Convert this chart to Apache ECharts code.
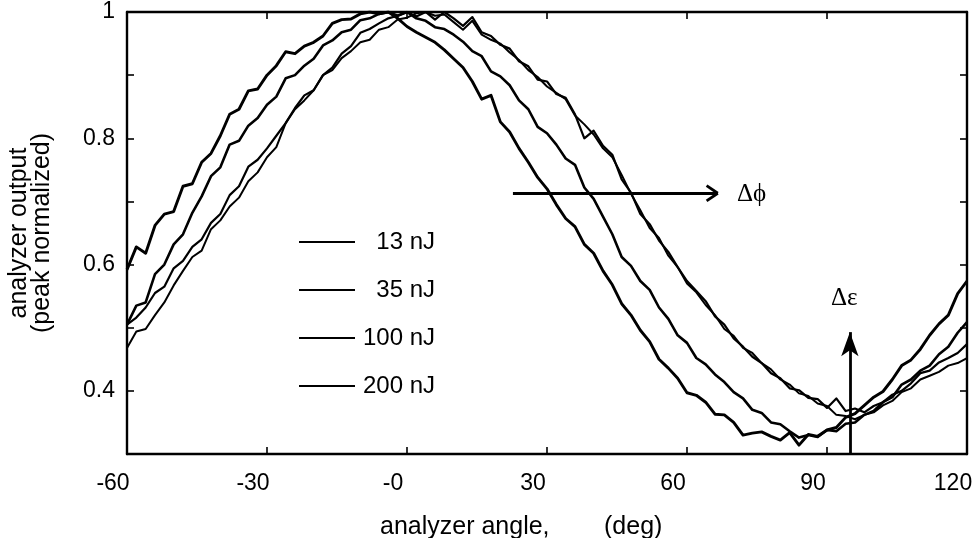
<!DOCTYPE html>
<html><head><meta charset="utf-8">
<script src="https://cdn.jsdelivr.net/npm/echarts@6/dist/echarts.min.js"></script>
<style>html,body{margin:0;padding:0;background:#fff}#c{width:979px;height:538px}</style>
</head><body><div id="c"></div>
<script>
// analyzer angle (deg)
const angles = [-60,-58,-56,-54,-52,-50,-48,-46,-44,-42,-40,-38,-36,-34,-32,-30,-28,-26,-24,-22,-20,-18,-16,-14,-12,-10,-8,-6,-4,-2,
0,2,4,6,8,10,12,14,16,18,20,22,24,26,28,30,32,34,36,38,40,42,44,46,48,50,52,54,56,58,
60,62,64,66,68,70,72,74,76,78,80,82,84,86,88,90,92,94,96,98,100,102,104,106,108,110,112,114,116,118,120];

const e13 = [.592,.628,.618,.662,.68,.684,.724,.728,.762,.776,.804,.838,.846,.875,.878,.9,.915,.937,.934,.946,.952,.962,.982,.988,.989,.997,1.0,.997,1.0,.99,
.977,.968,.96,.952,.94,.926,.912,.89,.862,.868,.826,.81,.784,.762,.738,.72,.695,.673,.66,.632,.618,.59,.568,.538,.52,.496,.478,.45,.436,.42,
.397,.393,.382,.363,.362,.35,.33,.333,.335,.328,.322,.334,.314,.331,.328,.338,.342,.358,.364,.377,.39,.399,.418,.44,.449,.466,.488,.506,.52,.554,.574];

const e35 = [.505,.535,.54,.585,.6,.632,.648,.682,.708,.74,.754,.79,.796,.82,.832,.853,.866,.895,.9,.915,.926,.947,.955,.968,.972,.987,.99,.997,1.0,.994,
1.0,.99,.986,.976,.973,.964,.953,.938,.93,.906,.898,.884,.86,.846,.818,.808,.79,.768,.758,.722,.704,.676,.648,.612,.598,.574,.56,.532,.514,.488,
.476,.452,.442,.426,.414,.398,.388,.37,.365,.35,.347,.336,.326,.33,.327,.338,.336,.348,.35,.362,.368,.382,.39,.41,.418,.432,.44,.458,.47,.492,.509];

const e100 = [.505,.516,.532,.555,.565,.594,.606,.628,.64,.666,.68,.71,.724,.755,.766,.784,.804,.824,.848,.868,.876,.9,.912,.934,.946,.967,.973,.982,.99,.994,
1.0,.993,1.0,.988,1.0,.99,.978,.992,.968,.962,.948,.942,.922,.914,.893,.89,.87,.864,.838,.8,.812,.788,.774,.735,.714,.68,.664,.638,.62,.596,
.574,.558,.542,.518,.505,.483,.47,.454,.444,.428,.42,.404,.401,.389,.387,.373,.388,.368,.372,.366,.376,.382,.394,.4,.412,.428,.432,.445,.452,.46,.474];

const e200 = [.468,.494,.498,.52,.54,.567,.59,.612,.622,.656,.67,.692,.706,.732,.746,.77,.786,.824,.846,.86,.876,.9,.908,.927,.938,.952,.956,.972,.976,.988,
.991,.998,1.0,.994,.996,.984,.972,.986,.964,.956,.95,.936,.924,.908,.897,.882,.872,.862,.836,.822,.806,.784,.77,.742,.712,.686,.658,.642,.614,.596,
.57,.556,.536,.52,.498,.487,.468,.46,.444,.434,.418,.41,.396,.392,.38,.376,.362,.36,.355,.362,.366,.377,.384,.398,.404,.418,.424,.43,.44,.444,.452];

const seriesNames = ['13 nJ','35 nJ','100 nJ','200 nJ'];
const seriesValues = [e13, e35, e100, e200];
const seriesWidths = [2.9, 2.6, 2.2, 2.0];

const xTicks = [-60,-30,0,30,60,90,120];
const yLabelTicks = [0.4,0.6,0.8,1];

// annotation arrows, data coordinates
const phiArrow = [[22.7,0.713],[66.6,0.713]];
const phiHeadA = [[64.2,0.725],[66.6,0.713]];
const phiHeadB = [[64.2,0.701],[66.6,0.713]];
const epsArrow = [[94.9,0.30],[94.9,0.493]];

const FONT = '"Liberation Sans", Arial, Helvetica, sans-serif';
const SERIF = '"Liberation Serif", "Times New Roman", serif';

const chart = echarts.init(document.getElementById('c'), null, {renderer:'canvas'});

const lineAxis = {show:true, onZero:false, lineStyle:{color:'#000', width:2.4}};
const tickStyle = {inside:true, length:7, lineStyle:{color:'#000', width:1.6}};

const series = seriesNames.map((n,i)=>({
  name:n, type:'line', symbol:'none', showSymbol:false,
  data: angles.map((a,k)=>[a, seriesValues[i][k]]),
  lineStyle:{color:'#000', width:seriesWidths[i], join:'round'},
  itemStyle:{color:'#000'},
  z: 3
}));

series[0].markLine = {
  silent:true, animation:false, symbol:['none','none'],
  label:{show:false},
  lineStyle:{color:'#000', width:2.8, type:'solid'},
  emphasis:{disabled:true},
  data:[
    [{coord:phiArrow[0]},{coord:phiArrow[1]}],
    [{coord:phiHeadA[0]},{coord:phiHeadA[1]}],
    [{coord:phiHeadB[0]},{coord:phiHeadB[1]}],
    [{coord:epsArrow[0], symbol:'none'},{coord:epsArrow[1], symbol:'arrow', symbolSize:[13,24]}]
  ]
};

const option = {
  animation:false,
  backgroundColor:'#fff',
  grid:{left:127, right:12, top:12, bottom:84, containLabel:false},
  xAxis:[
    {type:'value', min:-60, max:120, interval:30, position:'bottom',
     axisLine:lineAxis, axisTick:tickStyle, splitLine:{show:false},
     axisLabel:{color:'#000', fontSize:23, fontFamily:FONT, margin:18, padding:[0,28,0,0],
       formatter:v=> (v===0 ? '-0' : (xTicks.indexOf(v)>=0 ? String(v) : ''))}},
    {type:'value', min:-60, max:120, interval:30, position:'top',
     axisLine:lineAxis, axisTick:tickStyle, splitLine:{show:false}, axisLabel:{show:false}}
  ],
  yAxis:[
    {type:'value', min:0.3, max:1, interval:0.1, position:'left',
     axisLine:lineAxis, axisTick:tickStyle, splitLine:{show:false},
     axisLabel:{color:'#000', fontSize:23, fontFamily:FONT, margin:12,
       formatter:v=>{ const r=Math.round(v*10)/10; return yLabelTicks.some(t=>Math.abs(t-r)<1e-6) ? String(r) : ''; }}},
    {type:'value', min:0.3, max:1, interval:0.1, position:'right',
     axisLine:lineAxis, axisTick:tickStyle, splitLine:{show:false}, axisLabel:{show:false}}
  ],
  legend:{
    data:seriesNames, orient:'vertical', left:298, top:230, padding:0,
    itemWidth:56, itemHeight:14, itemGap:24, selectedMode:false,
    itemStyle:{opacity:0},
    formatter:'{n|{name}}',
    textStyle:{color:'#000', fontSize:24, fontFamily:FONT, lineHeight:24,
      rich:{n:{width:75, align:'right', fontSize:24, fontFamily:FONT, color:'#000', lineHeight:24}}}
  },
  series:series,
  graphic:[
    {type:'text', x:31, y:233, rotation:Math.PI/2,
     style:{text:'analyzer output\n(peak normalized)', fontSize:25, fontFamily:FONT, lineHeight:23,
       fill:'#000', align:'center', verticalAlign:'middle', textAlign:'center', textVerticalAlign:'middle'}},
    {type:'text', x:380, y:527,
     style:{text:'analyzer angle,', fontSize:25, fontFamily:FONT, fill:'#000',
       align:'left', verticalAlign:'middle', textAlign:'left', textVerticalAlign:'middle'}},
    {type:'text', x:604, y:527,
     style:{text:'(deg)', fontSize:25, fontFamily:FONT, fill:'#000',
       align:'left', verticalAlign:'middle', textAlign:'left', textVerticalAlign:'middle'}},
    {type:'text', x:737, y:194,
     style:{text:'Δϕ', fontSize:25, fontFamily:SERIF, fill:'#000',
       align:'left', verticalAlign:'middle', textAlign:'left', textVerticalAlign:'middle'}},
    {type:'text', x:831, y:298,
     style:{text:'Δε', fontSize:25, fontFamily:SERIF, fill:'#000',
       align:'left', verticalAlign:'middle', textAlign:'left', textVerticalAlign:'middle'}}
  ]
};
chart.setOption(option);
</script>
</body></html>
